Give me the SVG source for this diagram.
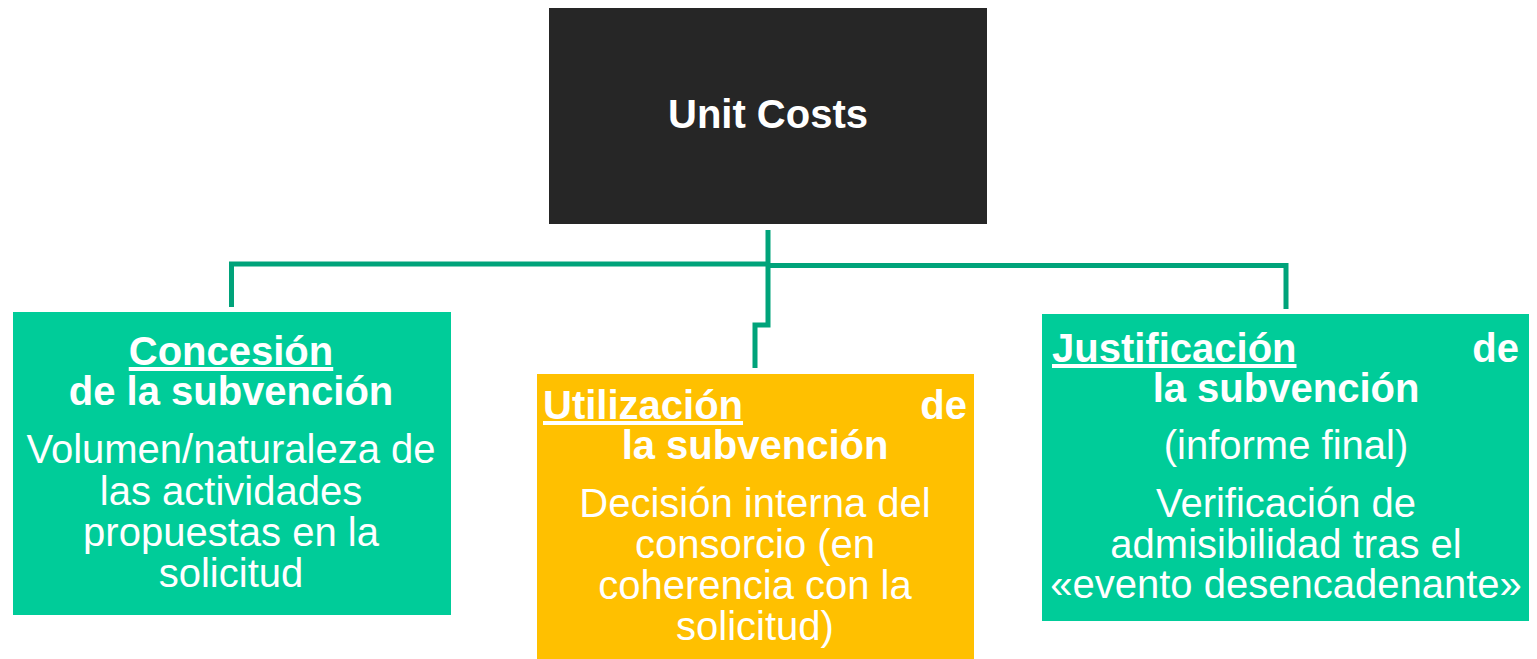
<svg xmlns="http://www.w3.org/2000/svg" width="1537" height="659" viewBox="0 0 1537 659">
<style>
text{font-family:"Liberation Sans",Arial,sans-serif;fill:#fff;font-size:40px}
.b{font-weight:bold}
.c{text-anchor:middle}
.e{text-anchor:end}
.u{text-decoration:underline}
.conn{fill:none;stroke:#00A37A;stroke-width:5}
</style>
<rect width="1537" height="659" fill="#fff"/>
<g id="connectors">
<path class="conn" d="M768 230V325H755V368"/>
<path class="conn" d="M768 264H231.5V307"/>
<path class="conn" d="M768 265.5H1286V309"/>
</g>
<g id="root">
<rect x="549" y="8" width="438" height="216" fill="#262626"/>
<text class="b c" x="768" y="128">Unit Costs</text>
</g>
<g id="concesion">
<rect x="13" y="312" width="438" height="303" fill="#00CC99"/>
<text class="b c u" x="231" y="365">Concesión</text>
<text class="b c" x="231" y="405">de la subvención</text>
<text class="c" x="231" y="463">Volumen/naturaleza de</text>
<text class="c" x="231" y="505">las actividades</text>
<text class="c" x="231" y="546">propuestas en la</text>
<text class="c" x="231" y="587">solicitud</text>
</g>
<g id="utilizacion">
<rect x="537" y="374" width="437" height="285" fill="#FFC000"/>
<text class="b u" x="543" y="419">Utilización</text>
<text class="b e" x="967" y="419">de</text>
<text class="b c" x="755" y="459">la subvención</text>
<text class="c" x="755" y="517">Decisión interna del</text>
<text class="c" x="755" y="558">consorcio (en</text>
<text class="c" x="755" y="599">coherencia con la</text>
<text class="c" x="755" y="640">solicitud)</text>
</g>
<g id="justificacion">
<rect x="1042" y="314" width="487" height="307" fill="#00CC99"/>
<text class="b u" x="1052" y="362">Justificación</text>
<text class="b e" x="1519" y="362">de</text>
<text class="b c" x="1286" y="402">la subvención</text>
<text class="c" x="1286" y="459">(informe final)</text>
<text class="c" x="1286" y="517">Verificación de</text>
<text class="c" x="1286" y="558">admisibilidad tras el</text>
<text class="c" x="1286" y="598">«evento desencadenante»</text>
</g>
</svg>
